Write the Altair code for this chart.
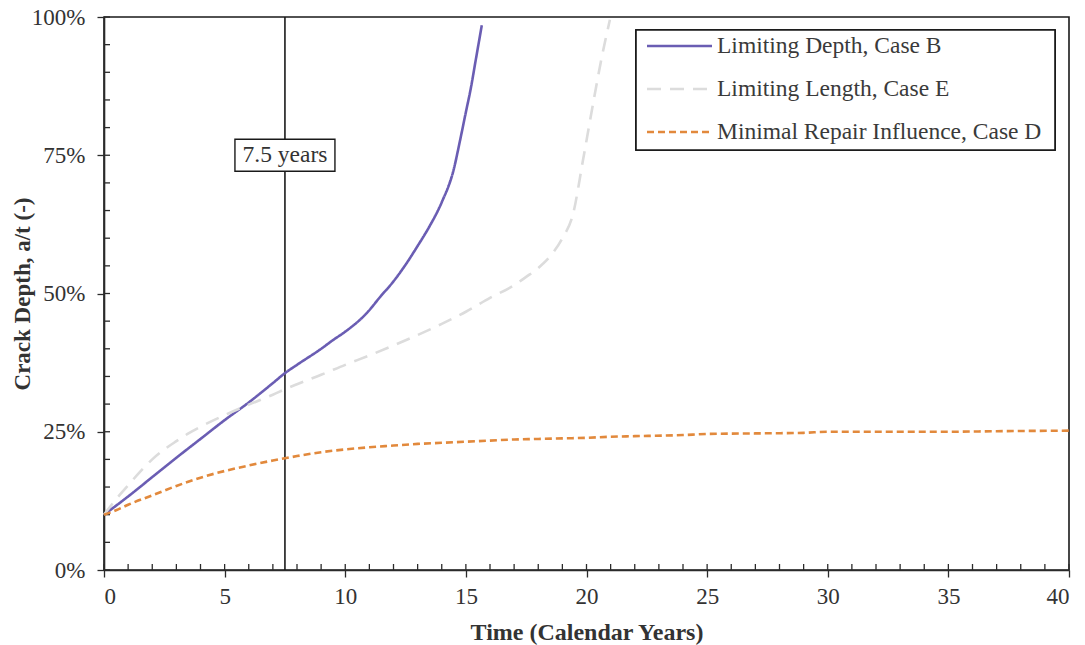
import altair as alt
import pandas as pd

# Crack growth predictions: crack depth as fraction of wall thickness (a/t) vs calendar years
years_b = [0, 1, 2, 3, 4, 5, 6, 7, 7.5, 8, 9, 9.5, 10, 10.9, 11.45, 12, 12.5,
           13.0, 13.5, 14.0, 14.5, 14.75, 15.0, 15.2, 15.4, 15.66]
depth_b = [0.10, 0.133, 0.168, 0.203, 0.237, 0.271, 0.303, 0.338, 0.356,
           0.371, 0.40, 0.416, 0.431, 0.465, 0.494, 0.522, 0.552, 0.586, 0.622,
           0.665, 0.725, 0.775, 0.828, 0.870, 0.920, 0.985]

years_e = [0, 0.5, 1, 1.5, 2, 2.5, 3, 3.5, 4, 5, 6, 7, 7.5, 8, 9, 10, 11, 12,
           13, 14, 15, 16, 17, 17.5, 18, 18.6, 19.0, 19.45, 19.85, 20.3, 20.6, 20.97]
depth_e = [0.10, 0.128, 0.153, 0.178, 0.20, 0.218, 0.233, 0.247, 0.259, 0.28,
           0.299, 0.317, 0.327, 0.336, 0.353, 0.371, 0.388, 0.406, 0.425, 0.445,
           0.467, 0.492, 0.515, 0.53, 0.546, 0.573, 0.60, 0.645, 0.74, 0.85, 0.92,
           0.995]

years_d = [0, 0.5, 1, 2, 3, 4, 5, 6, 7, 7.5, 8, 9, 10, 11, 12, 13, 14, 15, 16, 17,
           18, 19, 20, 21, 22, 24, 25, 27, 29, 30, 33, 35, 37, 40]
depth_d = [0.10, 0.108, 0.118, 0.135, 0.152, 0.167, 0.179, 0.189, 0.198, 0.202,
           0.206, 0.213, 0.218, 0.222, 0.225, 0.228, 0.230, 0.232, 0.234, 0.236,
           0.237, 0.238, 0.239, 0.241, 0.242, 0.244, 0.246, 0.247, 0.248, 0.250,
           0.250, 0.250, 0.251, 0.252]

series_names = ["Limiting Depth, Case B", "Limiting Length, Case E",
                "Minimal Repair Influence, Case D"]
series_colors = ["#6a5db3", "#dcdcdc", "#e2893c"]
series_dashes = [[1, 0], [14, 9], [7, 4]]

x_major = [0, 5, 10, 15, 20, 25, 30, 35, 40]
x_minor = list(range(0, 41))
y_major = [0, 0.25, 0.5, 0.75, 1.0]
y_minor = [i * 0.05 for i in range(21)]

marker_year = 7.5
marker_text = "7.5 years"

frames = []
for name, xs, ys in zip(series_names, [years_b, years_e, years_d],
                        [depth_b, depth_e, depth_d]):
    frames.append(pd.DataFrame({"year": xs, "depth": ys, "series": name}))
curves = pd.concat(frames, ignore_index=True)

W, H = 965, 553
FONT = "Liberation Serif"
INK = "#2b2b2b"

x_scale = alt.Scale(domain=[0, 40], nice=False, zero=False)
y_scale = alt.Scale(domain=[0, 1], nice=False)
color_scale = alt.Scale(domain=series_names, range=series_colors)
dash_scale = alt.Scale(domain=series_names, range=series_dashes)

base_x = alt.X("year:Q", scale=x_scale,
               axis=alt.Axis(values=x_major, format="d", title="Time (Calendar  Years)",
                             tickSize=7, labelPadding=8, titleFontSize=24,
                             titleBaseline="alphabetic", titleY=69))
base_y = alt.Y("depth:Q", scale=y_scale,
               axis=alt.Axis(values=y_major, format=".0%", title="Crack Depth, a/t (-)",
                             tickSize=7, labelPadding=12, titleFontSize=23,
                             titleBaseline="alphabetic", titleX=-75, titleY=H / 2))

lines = alt.Chart(curves).mark_line(strokeWidth=2.6, strokeCap="butt",
                                    interpolate="monotone").encode(
    x=base_x,
    y=base_y,
    color=alt.Color("series:N", scale=color_scale, legend=None),
    strokeDash=alt.StrokeDash("series:N", scale=dash_scale, legend=None),
    order="year:Q",
)

# inner tick marks (minor every year / every 5%)
xt = pd.DataFrame({"year": x_minor})
x_ticks = alt.Chart(xt).mark_rule(color=INK, strokeWidth=1.3).encode(
    x=alt.X("year:Q", scale=x_scale),
    y=alt.value(H), y2=alt.value(H - 6))
yt = pd.DataFrame({"depth": y_minor})
y_ticks = alt.Chart(yt).mark_rule(color=INK, strokeWidth=1.3).encode(
    y=alt.Y("depth:Q", scale=y_scale),
    x=alt.value(0), x2=alt.value(6))

# vertical marker with its labelled box
mk = pd.DataFrame({"year": [marker_year], "lo": [0.0], "hi": [1.0],
                   "mid": [0.75], "text": [marker_text]})
marker_line = alt.Chart(mk).mark_rule(color="#1a1a1a", strokeWidth=1.6).encode(
    x=alt.X("year:Q", scale=x_scale),
    y=alt.Y("lo:Q", scale=y_scale), y2="hi:Q")
marker_box = alt.Chart(mk).mark_rect(width=100, height=32, fill="white",
                                     stroke="#1a1a1a", strokeWidth=1.4).encode(
    x=alt.X("year:Q", scale=x_scale),
    y=alt.Y("mid:Q", scale=y_scale))
marker_label = alt.Chart(mk).mark_text(font=FONT, fontSize=23.5, color="#333",
                                       align="center", baseline="middle").encode(
    x=alt.X("year:Q", scale=x_scale),
    y=alt.Y("mid:Q", scale=y_scale),
    text="text:N")

# legend drawn inside the plot, upper right
leg = pd.DataFrame({"series": series_names})
leg_y = alt.Y("series:N", scale=alt.Scale(type="point", domain=series_names,
                                          range=[29, 115], padding=0), axis=None)
leg_box = alt.Chart(leg).mark_rect(fill="white", stroke="#1a1a1a", strokeWidth=1.6).encode(
    x=alt.value(532), x2=alt.value(951), y=alt.value(13), y2=alt.value(133))
leg_lines = alt.Chart(leg).mark_rule(strokeWidth=2.6, strokeCap="butt").encode(
    x=alt.value(543), x2=alt.value(608), y=leg_y,
    color=alt.Color("series:N", scale=color_scale, legend=None),
    strokeDash=alt.StrokeDash("series:N", scale=dash_scale, legend=None))
leg_text = alt.Chart(leg).mark_text(font=FONT, fontSize=23.5, color="#3a3a3a",
                                    align="left", baseline="middle").encode(
    x=alt.value(613), y=leg_y, text="series:N")
legend = alt.layer(leg_box, leg_lines, leg_text)

main = alt.layer(x_ticks, y_ticks, marker_line, marker_box, marker_label, lines)

chart = alt.layer(main, legend).resolve_scale(y="independent").properties(
    width=W, height=H,
    background="white",
    autosize=alt.AutoSizeParams(type="none"),
    padding={"left": 104, "top": 17, "right": 16, "bottom": 75},
).configure_view(
    stroke="#1a1a1a", strokeWidth=1.6
).configure_axis(
    grid=False,
    labelFont=FONT, labelFontSize=23, labelColor="#333",
    titleFont=FONT, titleFontWeight="bold", titleColor="#333",
    domainColor=INK, domainWidth=1.6, tickColor=INK, tickWidth=1.3,
)

chart.save("out.html", embed_options={"renderer": "svg", "actions": False})
